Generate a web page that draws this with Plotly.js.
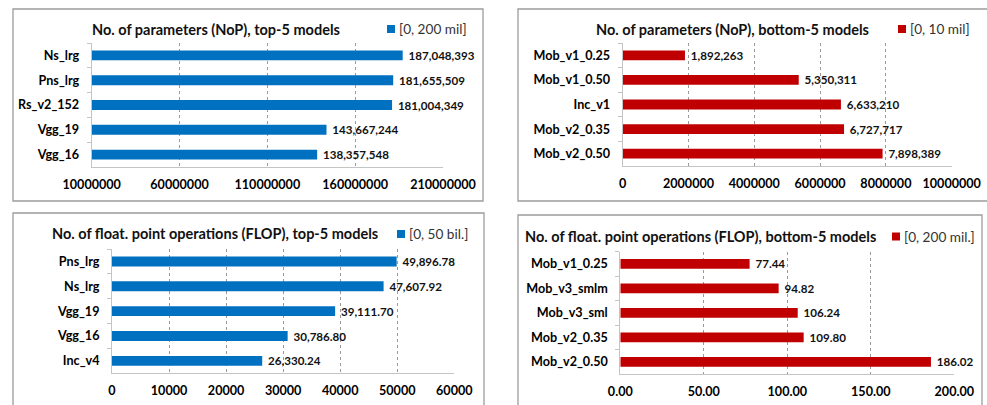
<!DOCTYPE html>
<html>
<head>
<meta charset="utf-8">
<script src="https://cdn.plot.ly/plotly-3.0.1.min.js"></script>
<style>
  html, body { margin: 0; padding: 0; background: #ffffff; }
  #chart { width: 987px; height: 405px; }
</style>
</head>
<body>
<div id="chart"></div>
<script>
// Number of parameters, largest models
const nopTopModels = ['Ns_lrg', 'Pns_lrg', 'Rs_v2_152', 'Vgg_19', 'Vgg_16'];
const nopTopValues = [187048393, 181655509, 181004349, 143667244, 138357548];

// Number of parameters, smallest models
const nopBottomModels = ['Mob_v1_0.25', 'Mob_v1_0.50', 'Inc_v1', 'Mob_v2_0.35', 'Mob_v2_0.50'];
const nopBottomValues = [1892263, 5350311, 6633210, 6727717, 7898389];

// Floating point operations, largest models
const flopTopModels = ['Pns_lrg', 'Ns_lrg', 'Vgg_19', 'Vgg_16', 'Inc_v4'];
const flopTopValues = [49896.78, 47607.92, 39111.70, 30786.80, 26330.24];

// Floating point operations, smallest models
const flopBottomModels = ['Mob_v1_0.25', 'Mob_v3_smlm', 'Mob_v3_sml', 'Mob_v2_0.35', 'Mob_v2_0.50'];
const flopBottomValues = [77.44, 94.82, 106.24, 109.80, 186.02];

const panelTitles = [
  'No. of parameters (NoP), top-5 models',
  'No. of parameters (NoP), bottom-5 models',
  'No. of float. point operations (FLOP), top-5 models',
  'No. of float. point operations (FLOP), bottom-5 models'
];
const seriesNames = ['[0, 200 mil]', '[0, 10 mil]', '[0, 50 bil.]', '[0, 200 mil.]'];

const xRanges = [[10000000, 210000000], [0, 10000000], [0, 60000], [0, 200]];
const xSteps = [50000000, 2000000, 10000, 50];

const W = 987, H = 405;
const px = v => v / W;
const py = v => 1 - v / H;

const BLUE = '#0070C0';
const RED = '#C00000';
const FONT = 'Lato, "Open Sans", sans-serif';

// Pixel geometry of the four panels
const panels = [
  { models: nopTopModels, values: nopTopValues, color: BLUE, tickFmt: 'd', labelFmt: '%{x:,}',
    box: [13, 9, 483, 201], plot: [91.7, 43, 443, 167], title: [216, 29], legend: [387, 29] },
  { models: nopBottomModels, values: nopBottomValues, color: RED, tickFmt: 'd', labelFmt: '%{x:,}',
    box: [518, 9, 1000, 201], plot: [622.7, 43, 951.7, 166], title: [732, 29], legend: [898, 29] },
  { models: flopTopModels, values: flopTopValues, color: BLUE, tickFmt: 'd', labelFmt: '%{x:,.2f}',
    box: [13, 213, 484, 420], plot: [112, 249, 454.3, 373.3], title: [214.5, 234], legend: [397, 234] },
  { models: flopBottomModels, values: flopBottomValues, color: RED, tickFmt: '.2f', labelFmt: '%{x:,.2f}',
    box: [518, 215, 982, 420], plot: [620.3, 251.7, 954.3, 374], title: [700.5, 236.5], legend: [892, 236.5] }
];

const data = [];
const layout = {
  width: W, height: H,
  margin: { l: 0, r: 0, t: 0, b: 0 },
  paper_bgcolor: '#ffffff',
  plot_bgcolor: '#ffffff',
  showlegend: false,
  font: { family: FONT, color: '#000000' },
  shapes: [],
  annotations: []
};

panels.forEach((p, i) => {
  const n = i + 1;
  const xa = n === 1 ? 'xaxis' : 'xaxis' + n;
  const ya = n === 1 ? 'yaxis' : 'yaxis' + n;

  data.push({
    type: 'bar',
    orientation: 'h',
    name: seriesNames[i],
    x: p.values,
    y: p.models,
    xaxis: 'x' + (n === 1 ? '' : n),
    yaxis: 'y' + (n === 1 ? '' : n),
    width: 0.4,
    marker: { color: p.color },
    texttemplate: '\u00a0' + p.labelFmt,
    textposition: 'outside',
    constraintext: 'none',
    cliponaxis: false,
    textfont: { family: FONT, size: 11.6, color: '#111111', weight: 'bold' },
    hoverinfo: 'skip'
  });

  layout[xa] = {
    domain: [px(p.plot[0]), px(p.plot[2])],
    anchor: 'y' + (n === 1 ? '' : n),
    range: xRanges[i],
    dtick: xSteps[i],
    tick0: xRanges[i][0],
    tickmode: 'linear',
    tickformat: p.tickFmt,
    showgrid: true,
    gridcolor: '#9a9a9a',
    griddash: 'dot',
    gridwidth: 1,
    zeroline: false,
    showline: true,
    linecolor: '#c4c4c4',
    linewidth: 1,
    ticks: '',
    ticklabelstandoff: 6,
    tickfont: { family: FONT, size: 12.6, color: '#000000', weight: 'bold' },
    fixedrange: true
  };

  layout[ya] = {
    domain: [py(p.plot[3]), py(p.plot[1])],
    anchor: 'x' + (n === 1 ? '' : n),
    type: 'category',
    autorange: 'reversed',
    showgrid: false,
    zeroline: false,
    showline: true,
    linecolor: '#c4c4c4',
    linewidth: 1,
    ticks: 'outside',
    tickson: 'boundaries',
    ticklen: 4,
    tickcolor: '#c4c4c4',
    ticklabelstandoff: 9,
    tickfont: { family: FONT, size: 12.6, color: '#000000', weight: 'bold' },
    fixedrange: true
  };

  // panel frame
  layout.shapes.push({
    type: 'rect', xref: 'paper', yref: 'paper',
    x0: px(p.box[0]), x1: px(p.box[2]), y0: py(p.box[3]), y1: py(p.box[1]),
    line: { color: '#9c9c9c', width: 1.3 }, fillcolor: 'rgba(0,0,0,0)', layer: 'below'
  });

  // panel heading
  layout.annotations.push({
    xref: 'paper', yref: 'paper',
    x: px(p.title[0]), y: py(p.title[1]),
    xanchor: 'center', yanchor: 'middle',
    text: panelTitles[i], showarrow: false,
    font: { family: FONT, size: 14.5, color: '#111111', weight: 'bold' }
  });

  // series key: swatch and name
  layout.shapes.push({
    type: 'rect', xref: 'paper', yref: 'paper',
    x0: px(p.legend[0]), x1: px(p.legend[0] + 8),
    y0: py(p.legend[1] + 4), y1: py(p.legend[1] - 4),
    line: { width: 0 }, fillcolor: p.color
  });
  layout.annotations.push({
    xref: 'paper', yref: 'paper',
    x: px(p.legend[0] + 9.5), y: py(p.legend[1]),
    xanchor: 'left', yanchor: 'middle',
    text: seriesNames[i], showarrow: false,
    font: { family: FONT, size: 13.6, color: '#333333' }
  });
});

Plotly.newPlot('chart', data, layout, { displayModeBar: false, staticPlot: true });
</script>
</body>
</html>
